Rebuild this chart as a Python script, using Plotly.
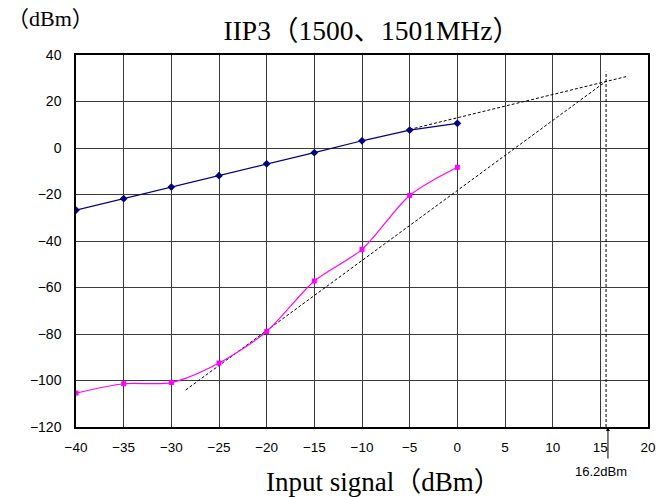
import plotly.graph_objects as go

# Input power (dBm)
x_in = [-40, -35, -30, -25, -20, -15, -10, -5, 0]
# Fundamental output (dBm)
fund_out = [-26.7, -21.8, -16.8, -11.9, -6.8, -2.0, 3.1, 7.7, 10.6]
# Third-order IM output (dBm)
im3_out = [-105.4, -101.4, -100.9, -92.5, -78.9, -57.2, -43.6, -20.4, -8.3]

# Extrapolation lines (endpoints)
fund_ext_x = [-5, 17.7]
fund_ext_y = [8.0, 30.7]
im3_ext_x = [-28.5, 15.6]
im3_ext_y = [-104.1, 28.7]
iip3_x = [15.6, 15.6]
iip3_y = [-120, 32.8]
iip3_label = "16.2dBm"

x_ticks = [-40, -35, -30, -25, -20, -15, -10, -5, 0, 5, 10, 15, 20]
y_ticks = [-120, -100, -80, -60, -40, -20, 0, 20, 40]

serif = "Liberation Serif, Times New Roman, Noto Sans CJK JP, serif"
sans = "Liberation Sans, Arial, sans-serif"

fig = go.Figure()
fig.add_trace(go.Scatter(x=fund_ext_x, y=fund_ext_y, mode="lines",
                         line=dict(color="black", width=1, dash="3px,2px"),
                         hoverinfo="skip"))
fig.add_trace(go.Scatter(x=im3_ext_x, y=im3_ext_y, mode="lines",
                         line=dict(color="black", width=1, dash="3px,2px"),
                         hoverinfo="skip"))
fig.add_trace(go.Scatter(x=iip3_x, y=iip3_y, mode="lines",
                         line=dict(color="black", width=1, dash="3px,2px"),
                         hoverinfo="skip"))
fig.add_trace(go.Scatter(x=x_in, y=fund_out, mode="lines+markers",
                         line=dict(color="#000080", width=1.2),
                         marker=dict(symbol="diamond", size=6, color="#000080")))
fig.add_trace(go.Scatter(x=x_in, y=im3_out, mode="lines+markers",
                         line=dict(color="#FF00FF", width=1.2, shape="spline", smoothing=0.8),
                         marker=dict(symbol="square", size=5, color="#FF00FF")))

fig.add_annotation(x=iip3_x[0] + 0.2, y=0, xref="x", yref="paper", text="",
                   showarrow=True, arrowhead=2, arrowsize=0.8, arrowwidth=1,
                   arrowcolor="black", ax=0, ay=33)
fig.add_annotation(x=iip3_x[0] - 0.5, y=-0.12, xref="x", yref="paper", text=iip3_label,
                   showarrow=False, font=dict(family=sans, size=13, color="black"),
                   yanchor="middle")
fig.add_annotation(x=-0.125, y=1.098, xref="paper", yref="paper", text="（dBm）",
                   showarrow=False, xanchor="left", yanchor="middle",
                   font=dict(family=serif, size=22, color="black"))
fig.add_annotation(x=0.537, y=-0.148, xref="paper", yref="paper", text="Input signal（dBm）",
                   showarrow=False, xanchor="center", yanchor="middle",
                   font=dict(family=serif, size=27, color="black"))

fig.update_layout(
    width=672, height=497,
    margin=dict(l=76, r=24, t=55, b=70),
    paper_bgcolor="white", plot_bgcolor="white",
    showlegend=False,
    title=dict(text="IIP3（1500、1501MHz）", x=0.517, xref="paper",
               y=1 - 30 / 497, yref="container", xanchor="center", yanchor="middle",
               font=dict(family=serif, size=27.5, color="black")),
)
fig.update_xaxes(range=[-40, 20], tickvals=x_ticks, showgrid=True,
                 gridcolor="#3a3a3a", gridwidth=1, zeroline=False,
                 showline=True, linecolor="black", linewidth=1.5, mirror=True,
                 ticks="", ticklabelstandoff=7,
                 tickfont=dict(family=sans, size=13.5, color="black"))
fig.update_yaxes(range=[-120, 40], tickvals=y_ticks, showgrid=True,
                 gridcolor="#3a3a3a", gridwidth=1, zeroline=False,
                 showline=True, linecolor="black", linewidth=1.5, mirror=True,
                 ticks="", ticklabelstandoff=10,
                 tickfont=dict(family=sans, size=14, color="black"))

fig.write_html("out.html", config={"displayModeBar": False},
               post_script="document.body.style.margin='0';")
